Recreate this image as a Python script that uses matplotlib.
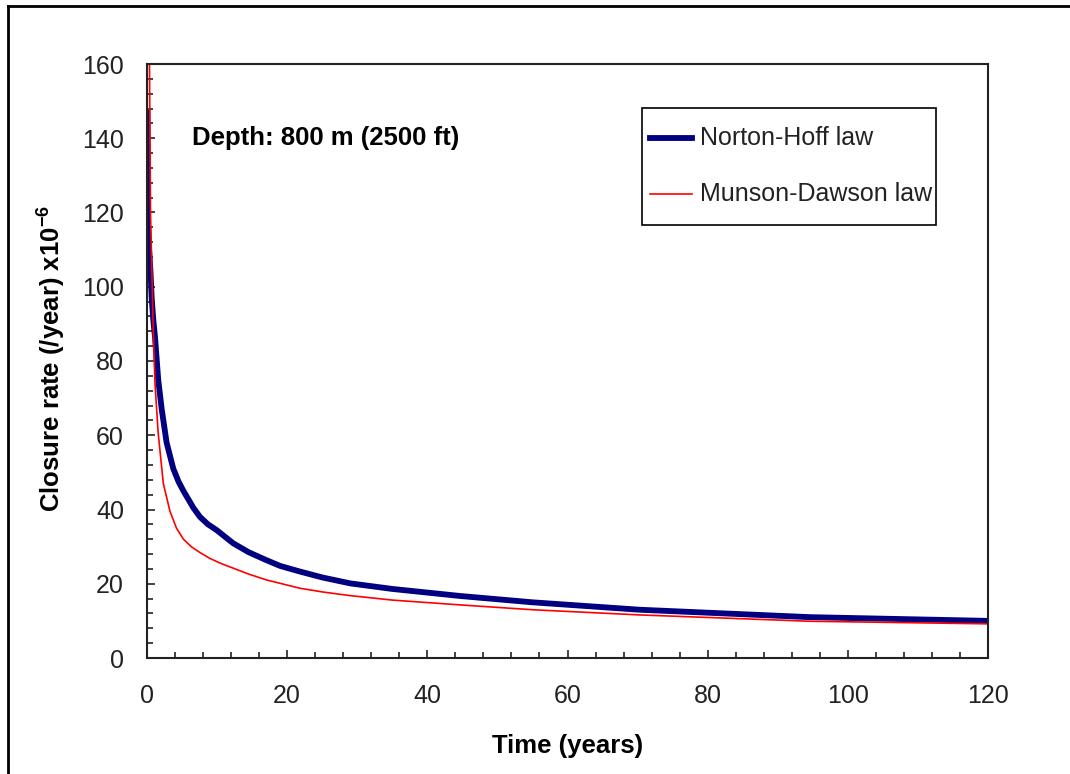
import numpy as np
import matplotlib
matplotlib.use("Agg")
import matplotlib.pyplot as plt
from matplotlib.ticker import MultipleLocator
from matplotlib.lines import Line2D
from matplotlib.patches import Rectangle

plt.rcParams['font.family'] = ['Liberation Sans', 'DejaVu Sans']

# Norton-Hoff law
nh_time = [0.05, 0.15, 0.3, 0.5, 0.67, 0.9, 1.14, 1.6, 2.1, 2.8, 3.75, 4.5, 5.2, 6.6,
           7.56, 8.7, 9.9, 12.3, 14.5, 17.1, 19, 21.8, 25, 29, 35, 44.7, 55, 70.3,
           80, 94.6, 120]
nh_rate = [147.6, 116.6, 110, 104, 97, 91, 86.5, 75, 67, 58, 51, 47.5, 45, 40.5,
           38, 36, 34.5, 30.9, 28.5, 26.3, 24.8, 23.3, 21.7, 20.1, 18.6, 16.7, 15.0, 13.0,
           12.2, 11.0, 10.0]

# Munson-Dawson law
md_time = [0.3, 0.5, 0.9, 1.14, 1.6, 2.33, 3.28, 4.2, 5.2, 6.3, 7.56, 9, 10.5, 12.3,
           14.5, 17.1, 21.8, 25, 29, 35, 44.7, 55, 70.3, 94.6, 120]
md_rate = [175, 120, 87.5, 74, 60.5, 47, 39.5, 35, 32, 30, 28.4, 26.8, 25.5, 24.2,
           22.6, 21.0, 18.8, 17.8, 16.8, 15.6, 14.3, 13.0, 11.6, 9.9, 9.2]

labels = ["Norton-Hoff law", "Munson-Dawson law"]
colors = ["#000080", "#ff0000"]
widths = [4.2, 1.2]

W, H = 1070, 774
AX_L, AX_R, AX_T, AX_B = 147, 988, 64, 658

fig = plt.figure(figsize=(W / 100, H / 100), dpi=100)
ax = fig.add_axes([AX_L / W, 1 - AX_B / H, (AX_R - AX_L) / W, (AX_B - AX_T) / H])


def px(x, y):
    """pixel position in the picture -> axes fraction"""
    return (x - AX_L) / (AX_R - AX_L), (AX_B - y) / (AX_B - AX_T)


ax.plot(nh_time, nh_rate, color=colors[0], linewidth=widths[0], solid_capstyle="butt")
ax.plot(md_time, md_rate, color=colors[1], linewidth=widths[1])

ax.set_xlim(0, 120)
ax.set_ylim(0, 160)
ax.xaxis.set_major_locator(MultipleLocator(20))
ax.xaxis.set_minor_locator(MultipleLocator(4))
ax.yaxis.set_major_locator(MultipleLocator(20))
ax.yaxis.set_minor_locator(MultipleLocator(4))
ax.tick_params(which="both", direction="in", top=False, right=False, width=1.2,
               labelsize=18, colors="#222222")
ax.tick_params(which="major", length=6)
ax.tick_params(which="minor", length=4)
ax.tick_params(axis="y", which="major", pad=16.5)
ax.tick_params(axis="x", which="major", pad=19)
for sp in ax.spines.values():
    sp.set_linewidth(1.5)
    sp.set_color("#222222")

ax.set_xlabel("Time (years)", fontsize=18.5, fontweight="bold")
ax.set_ylabel("Closure rate (/year) x10$^{\\mathregular{-6}}$", fontsize=18.5,
              fontweight="bold")
ax.xaxis.set_label_coords(0.5, -0.128)
ax.yaxis.set_label_coords(-0.095, 0.505)

ax.text(*px(192, 138), "Depth: 800 m (2500 ft)", transform=ax.transAxes,
        fontsize=18.5, fontweight="bold", va="center", ha="left")

# legend box drawn by hand so the spacing matches
x0, y0 = px(642, 225)
x1, y1 = px(936, 108)
ax.add_patch(Rectangle((x0, y0), x1 - x0, y1 - y0, transform=ax.transAxes,
                       facecolor="white", edgecolor="black", linewidth=1.2, zorder=5))
for i, (lab, c, lw) in enumerate(zip(labels, colors, widths)):
    yy = 138 + 56 * i
    (hx0, hy), (hx1, _) = px(650, yy), px(692, yy)
    ax.add_line(Line2D([hx0, hx1], [hy, hy], transform=ax.transAxes, color=c,
                       linewidth=lw, zorder=6))
    ax.text(*px(700, yy), lab, transform=ax.transAxes, fontsize=18, va="center",
            ha="left", color="#222222", zorder=6)

# outer border of the picture (left and top visible)
fig.add_artist(Line2D([8 / W, 8 / W], [0, 1 - 6 / H], transform=fig.transFigure,
                      color="black", linewidth=2))
fig.add_artist(Line2D([8 / W, 1], [1 - 6 / H, 1 - 6 / H], transform=fig.transFigure,
                      color="black", linewidth=2))

fig.savefig("out.png", dpi=100)
